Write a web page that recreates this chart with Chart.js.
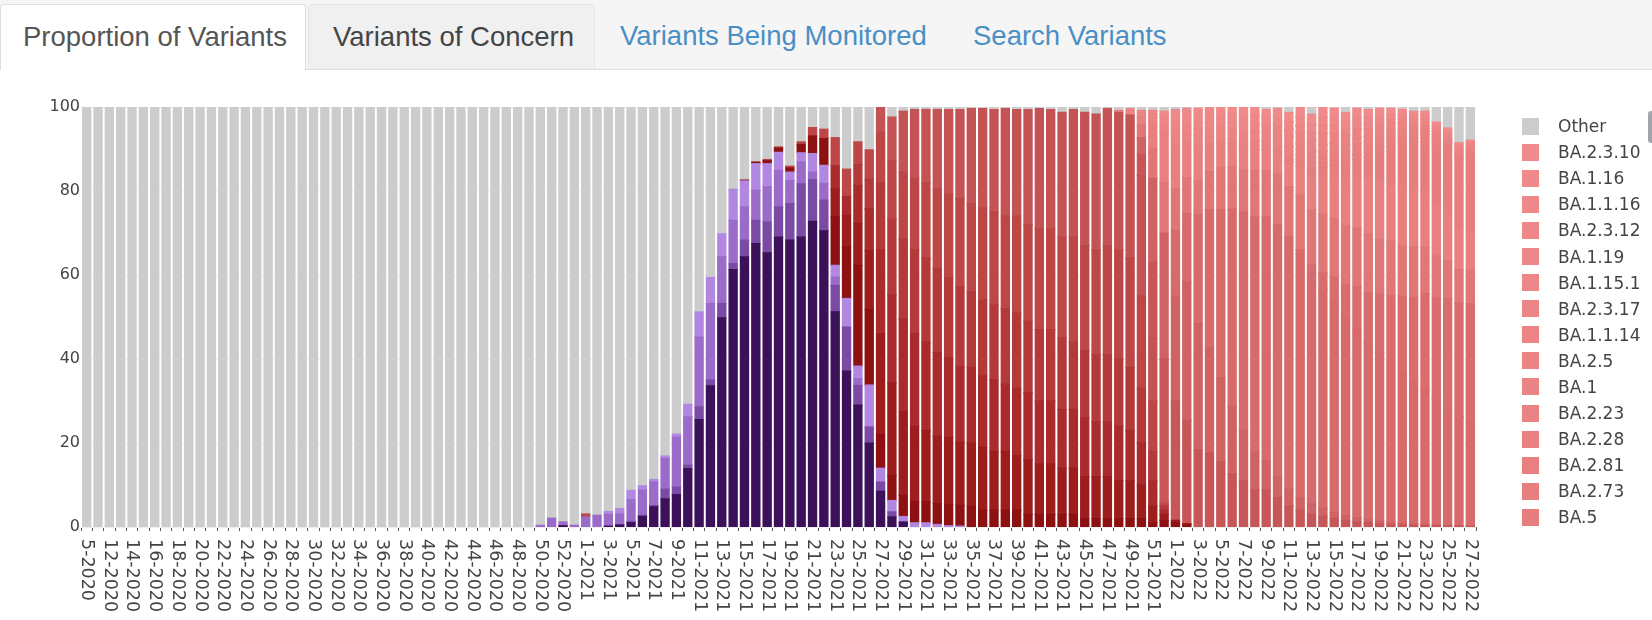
<!DOCTYPE html>
<html>
<head>
<meta charset="utf-8">
<script src="https://cdn.jsdelivr.net/npm/chart.js@4.4.0/dist/chart.umd.min.js"></script>
<style>
  body { margin: 0; background: #fff; width: 1652px; height: 620px; overflow: hidden; position: relative; }
  .tabs { position: absolute; left: 0; top: 0; width: 1652px; height: 69px; background: #f5f5f5; border-bottom: 1px solid #dddddd; }
  .tab { position: absolute; top: 4px; height: 65px; box-sizing: border-box; font: 27.5px "Liberation Sans", Arial, sans-serif; line-height: 64px; white-space: nowrap; }
  .tab.active { left: 0; width: 306px; background: #fff; border: 1px solid #dddddd; border-bottom: none; border-radius: 4px 4px 0 0; height: 66px; padding-left: 22px; color: #555; }
  .tab.plain { left: 308px; width: 287px; background: #f0f0f0; border: 1px solid #e6e6e6; border-bottom: none; border-radius: 4px 4px 0 0; padding-left: 24px; color: #444; }
  .tab.link { color: #4a8fc4; }
  #wrap { position: absolute; left: 0; top: 80px; width: 1652px; height: 540px; }
  #legend { position: absolute; left: 1522px; top: 113px; width: 125px; height: 418px; overflow: hidden; font: 17px "DejaVu Sans", Verdana, sans-serif; color: #444; }
  .item { height: 26.1px; display: flex; align-items: center; white-space: nowrap; }
  .box { width: 17px; height: 17px; margin-right: 19px; flex: none; }
  #scroll { position: absolute; left: 1648px; top: 111px; width: 6px; height: 32px; border-radius: 3px; background: #8a8f96; opacity: 0.8; }
</style>
</head>
<body>
<div class="tabs">
  <div class="tab active">Proportion of Variants</div>
  <div class="tab plain">Variants of Concern</div>
  <div class="tab link" style="left:620px">Variants Being Monitored</div>
  <div class="tab link" style="left:973px">Search Variants</div>
</div>
<div id="wrap"><canvas id="chart"></canvas></div>
<div id="legend"></div>
<div id="scroll"></div>
<script>
// epi weeks shown on the x axis
const weekLabels = [
  "5-2020","11-2020","12-2020","13-2020","14-2020","15-2020","16-2020","17-2020","18-2020","19-2020",
  "20-2020","21-2020","22-2020","23-2020","24-2020","25-2020","26-2020","27-2020","28-2020","29-2020",
  "30-2020","31-2020","32-2020","33-2020","34-2020","35-2020","36-2020","37-2020","38-2020","39-2020",
  "40-2020","41-2020","42-2020","43-2020","44-2020","45-2020","46-2020","47-2020","48-2020","49-2020",
  "50-2020","51-2020","52-2020","53-2020",
  "1-2021","2-2021","3-2021","4-2021","5-2021","6-2021","7-2021","8-2021","9-2021","10-2021",
  "11-2021","12-2021","13-2021","14-2021","15-2021","16-2021","17-2021","18-2021","19-2021","20-2021",
  "21-2021","22-2021","23-2021","24-2021","25-2021","26-2021","27-2021","28-2021","29-2021","30-2021",
  "31-2021","32-2021","33-2021","34-2021","35-2021","36-2021","37-2021","38-2021","39-2021","40-2021",
  "41-2021","42-2021","43-2021","44-2021","45-2021","46-2021","47-2021","48-2021","49-2021","50-2021",
  "51-2021","52-2021",
  "1-2022","2-2022","3-2022","4-2022","5-2022","6-2022","7-2022","8-2022","9-2022","10-2022",
  "11-2022","12-2022","13-2022","14-2022","15-2022","16-2022","17-2022","18-2022","19-2022","20-2022",
  "21-2022","22-2022","23-2022","24-2022","25-2022","26-2022","27-2022"
];
const yTicks = [0, 20, 40, 60, 80, 100];

// each series: [index of first week with data, percentages from that week on]
const b117 = [42, [0.3, 0, 0, 0, 0.2, 0.5, 1.0, 2.5, 4.8, 6.7, 7.7, 13.9, 25.6, 33.6, 49.8, 61.3, 64.3, 67.5, 65.3, 69, 68.3, 69, 72.8, 70.5, 51.2, 37.1, 29, 20, 8.5, 2.4, 1.2]];
const q1 = [48, [0.3, 0.3, 0.3, 2.3, 1.8, 0.8, 3.0, 1.4, 3.4, 1.4, 4, 5.5, 7.3, 7.2, 8.7, 12.7, 9.9, 7.3, 6.3, 10.5, 4.7, 3.8, 2.2, 1.2]];
const q3 = [40, [0.4, 2.1, 0.9, 0.4, 2.4, 2.8, 2.8, 2.6, 5.2, 6.0, 5.6, 7.3, 11.9, 11.5, 16.6, 18.2, 11.1, 10.3, 7.9, 7.2, 8.4, 8.7, 5.5, 5.2, 1.8, 4, 2, 0, 1.6]];
const q4 = [46, [0.7, 1.3, 2.2, 1.0, 0.6, 0.6, 0.7, 3.0, 6.0, 6.2, 5.5, 7.4, 6.2, 6.3, 5.5, 4.3, 2, 2.2, 4.4, 4.3, 2.8, 6.8, 3, 10, 3.3, 2.7, 1.3, 1.0, 1.0, 0.6, 0.3, 0.2]];
const b16172 = [58, [0.2, 0.4, 0.7, 1.0, 1.0, 2.0, 4.2, 6.4, 11.5, 12.3, 24, 18, 8, 6, 5, 5, 5, 5, 5, 5, 5, 4, 4, 4, 4, 3, 3, 3, 3, 3, 2, 2, 2, 2, 2, 2, 1, 1.5, 1.0, 0.5]];
const ay25 = [66, [6.7, 7.5, 10, 14, 24, 22, 20, 18, 17, 16, 16, 15, 15, 15, 14, 14, 13, 13, 12, 12, 11, 11, 10, 10, 10, 9, 9, 8, 4, 1.5, 0.6, 0.3]];
const ay27 = [66, [5.5, 4.5, 9, 10, 20, 21, 22, 22, 21, 20, 19, 18, 18, 17, 17, 16, 16, 16, 15, 15, 14, 14, 14, 13, 13, 13, 12, 10, 6, 1]];
const ay4 = [68, [5, 7, 16, 18, 19, 20, 20, 20, 19, 19, 18, 18, 18, 18, 18, 17, 17, 17, 17, 16, 16, 16, 16, 16, 15, 13, 7, 1]];
const ay103 = [44, [0.7, 0, 0, 0, 0, 0, 0, 0, 0, 0, 0, 0, 0, 0, 0, 0, 0.3, 0.3, 0.4, 0.6, 2.0, 2.2, 6.7, 6.5, 5.4, 7, 12, 14, 16, 17, 18, 19, 20, 21, 21, 22, 22, 22, 23, 23, 24, 24, 24, 25, 25, 25, 26, 26, 26, 22, 12, 0.5]];
const ay74 = [70, [6, 10.3, 14.5, 16.4, 17.4, 18.8, 20.1, 21.2, 22.6, 23.6, 24.4, 25.6, 25.4, 27.4, 28.6, 28.4, 29.7, 30.4, 31.7, 32.3, 32.6, 32.7, 32.8, 28.7, 15, 0.5]];
const ba11 = [92, [1.3, 5, 18, 34, 28.4, 24.6, 18.4, 17.6, 15.5, 12.7, 11, 8.8, 8.8, 7, 5, 4, 3, 2.5, 2, 1.5, 1.2, 1, 0.8, 0.6, 0.5, 0.4, 0.3, 0.3, 0.2, 0.2, 0.1]];
const ba1172 = [93, [4, 20, 30, 25, 32.9, 30, 25, 20, 16, 12, 9, 7, 5, 4, 3, 2.5, 2, 1.5, 1.2, 1, 0.8, 0.6, 0.5, 0.4, 0.3, 0.3, 0.2, 0.2, 0.1, 0.1]];
const ba2 = [96, [15.6, 16.3, 26, 33, 40, 47, 52, 56, 58, 60, 60, 58, 55, 52, 50, 47, 45, 42, 40, 38, 36, 34, 32, 30, 28, 26, 25]];
const ba5221 = [107, [1, 2, 4, 6, 8, 10, 12, 14, 16, 18, 20, 23, 24, 26, 27, 28]];
const ba29 = [93, [3, 7, 12, 10, 8.5, 8, 9, 10, 10, 10, 11, 11, 12, 12, 13, 13, 14, 14, 14, 14, 14, 13, 13, 12, 12, 11, 10, 9, 8, 8]];
const ba2121 = [93, [2, 6, 12, 10.3, 8.6, 8.6, 7, 6, 5, 5, 5, 5, 5, 6, 7, 8, 9, 10, 11, 12, 13, 14, 14, 14, 14, 13, 12, 11, 10, 9]];
const ba5 = [106, [0.2, 0.8, 1.2, 2.2, 2.7, 3.3, 4.3, 5.2, 7.0, 8.2, 10.2, 11.0, 12.9, 14.2, 15.7, 16.1, 18.0]];
const ba273 = [105, [0.3, 0.4, 0.8, 0.8, 1.0, 1.0, 1.1, 1.2, 1.2, 1.2, 1.2, 1.1, 1.0, 0.9, 0.8, 0.7, 0.6, 0.6]];
const ba281 = [103, [0.2, 0.3, 0.5, 0.7, 1.0, 1.2, 1.3, 1.3, 1.3, 1.3, 1.3, 1.2, 1.1, 1.0, 0.9, 0.8, 0.7, 0.6, 0.5, 0.5]];
const ba228 = [102, [0.7, 0.8, 0.8, 1.0, 1.1, 1.3, 1.4, 1.5, 1.4, 1.3, 1.3, 1.2, 1.1, 1.0, 0.9, 0.8, 0.7, 0.6, 0.5, 0.4, 0.4]];
const ba223 = [101, [0.6, 0.8, 0.9, 0.9, 1.0, 1.1, 1.3, 1.4, 1.5, 1.4, 1.3, 1.3, 1.2, 1.1, 1.0, 0.9, 0.8, 0.7, 0.6, 0.5, 0.4, 0.4]];
const ba1 = [91, [0.5, 1.5, 1.0, 1.5, 1.5, 2, 1.8, 1.6, 1.3, 1.0, 0.8, 0.6, 0.5, 0.4, 0.3, 0.2, 0.2, 0.1, 0.1, 0.1, 0.1, 0.1, 0.1]];
const ba25 = [96, [0.5, 0.5, 0.8, 1.0, 1.2, 1.4, 1.6, 1.8, 1.8, 2.0, 2.2, 2.5, 2.5, 2.6, 2.4, 2.2, 2.0, 1.8, 1.6, 1.4, 1.2, 1.0, 0.9, 0.8, 0.7, 0.6, 0.5]];
const ba1114 = [94, [0.7, 1, 1.5, 1.4, 1.4, 1.2, 1.0, 0.8, 0.6, 0.4, 0.3, 0.3, 0.2, 0.1, 0.1, 0.1, 0.1, 0.1]];
const ba2317 = [100, [0.6, 0.8, 1.0, 1.1, 1.0, 1.2, 1.3, 1.5, 1.6, 1.7, 1.6, 1.5, 1.4, 1.3, 1.2, 1.1, 1.0, 0.9, 0.8, 0.7, 0.6, 0.5, 0.5]];
const ba1151 = [93, [0.5, 1.0, 1, 1.5, 1.5, 1.5, 1.3, 1.0, 0.8, 0.6, 0.5, 0.4, 0.3, 0.2, 0.1, 0.1, 0.1, 0.1]];
const ba119 = [95, [0.5, 1, 1, 1, 0.9, 0.8, 0.7, 0.5, 0.4, 0.3, 0.2, 0.2, 0.1, 0.1]];
const ba2312 = [99, [0.4, 0.6, 0.9, 1.1, 1.2, 1.2, 1.4, 1.5, 1.8, 1.8, 1.9, 1.8, 1.7, 1.6, 1.5, 1.3, 1.2, 1.0, 0.9, 0.8, 0.7, 0.6, 0.5, 0.5]];
const ba1116 = [95, [0.5, 1, 1, 1, 0.9, 0.8, 0.7, 0.5, 0.4, 0.3, 0.2, 0.2, 0.1, 0.1]];
const ba116 = [95, [0.5, 1, 0.8, 0.9, 0.8, 0.7, 0.6, 0.5, 0.4, 0.3, 0.2, 0.2, 0.1, 0.1, 0.1]];
const ba2310 = [98, [0.5, 0.6, 0.8, 1.2, 1.5, 1.6, 1.6, 1.8, 2.0, 2.3, 2.3, 2.4, 2.3, 2.1, 2.0, 1.8, 1.6, 1.4, 1.2, 1.0, 0.9, 0.8, 0.7, 0.6, 0.5]];
const other = [0, [
  100, 100, 100, 100, 100, 100, 100, 100, 100, 100, 100, 100, 100, 100, 100, 100, 100, 100, 100, 100,
  100, 100, 100, 100, 100, 100, 100, 100, 100, 100, 100, 100, 100, 100, 100, 100, 100, 100, 100, 100,
  99.6, 97.9, 98.8, 99.6, 96.9, 97.2, 96.3, 95.6, 91.3, 90.2, 88.7, 83.1, 77.9, 70.8, 48.8, 40.6, 30.2, 19.6, 17.4, 13.1,
  12.5, 9.5, 14.1, 8.3, 4.9, 5.3, 7.3, 14.8, 8.3, 10.2, 0, 2.4, 1.0, 0.6, 0.6, 0.6, 0.6, 0.6, 0.4, 0.4,
  0.6, 0.4, 0.6, 0.6, 0.4, 0.6, 1.3, 0.6, 1.3, 1.7, 0.4, 0.8, 0.4, 0.8, 0.8, 1.0, 0.6, 0.3, 0.3, 0,
  0, 0, 0, 0, 0.6, 0.3, 1.3, 0, 1.7, 0, 0.3, 1.3, 0.3, 0.6, 0.3, 0.3, 0.6, 1.0, 1.0, 3.6,
  5.0, 8.5, 7.9
]];

// stacking order, bottom first (legend lists it top first)
const lineageNames = ["B.1.1.7", "Q.1", "Q.3", "Q.4", "B.1.617.2", "AY.25", "AY.27", "AY.4", "AY.103", "AY.74",
  "BA.1.1", "BA.1.17.2", "BA.2", "BA.5.2.1", "BA.2.9", "BA.2.12.1",
  "BA.5", "BA.2.73", "BA.2.81", "BA.2.28", "BA.2.23", "BA.1", "BA.2.5", "BA.1.1.14", "BA.2.3.17",
  "BA.1.15.1", "BA.1.19", "BA.2.3.12", "BA.1.1.16", "BA.1.16", "BA.2.3.10", "Other"];
const lineageSeries = [b117, q1, q3, q4, b16172, ay25, ay27, ay4, ay103, ay74,
  ba11, ba1172, ba2, ba5221, ba29, ba2121,
  ba5, ba273, ba281, ba228, ba223, ba1, ba25, ba1114, ba2317,
  ba1151, ba119, ba2312, ba1116, ba116, ba2310, other];
const lineageColors = ["#3b1159", "#7a4aa5", "#9a6bc8", "#b287e2", "#8e1111", "#9d1d1d", "#aa2b2b", "#b43939", "#bd4747", "#c45353",
  "#c75757", "#cf6262", "#d76a6a", "#d96d6d", "#e07676", "#e88080",
  "#e67e7e", "#e77f7f", "#e88080", "#e98181", "#e98282", "#ea8383", "#eb8383", "#ec8484", "#ec8585",
  "#ed8686", "#ee8787", "#ee8888", "#ef8989", "#f08a8a", "#f18b8b", "#cccccc"];

// weeks without a value for a lineage get no bar at all
function expand([start, vals]) {
  return weekLabels.map((_, i) => (i >= start && i < start + vals.length && vals[i - start]) ? vals[i - start] : null);
}

const weekTicks = {
  id: 'weekTicks',
  afterDraw(chart) {
    const { ctx } = chart;
    const x = chart.scales.x;
    ctx.save();
    ctx.font = '17.5px "DejaVu Sans", Verdana, sans-serif';
    ctx.fillStyle = '#444';
    ctx.textAlign = 'left';
    ctx.textBaseline = 'middle';
    weekLabels.forEach((lab, i) => {
      if (i % 2) return;
      ctx.save();
      ctx.translate(x.getPixelForValue(i), x.top + 12);
      ctx.rotate(Math.PI / 2);
      ctx.fillText(lab, 0, 0);
      ctx.restore();
    });
    ctx.restore();
  }
};

Chart.defaults.font.family = '"DejaVu Sans", Verdana, sans-serif';

const chart = new Chart(document.getElementById('chart'), {
  type: 'bar',
  data: {
    labels: weekLabels,
    datasets: lineageNames.map((name, k) => ({
      label: name,
      data: expand(lineageSeries[k]),
      backgroundColor: lineageColors[k],
      borderWidth: 0,
      inflateAmount: 0.6,
      barPercentage: 0.72,
      categoryPercentage: 1
    }))
  },
  options: {
    responsive: true,
    maintainAspectRatio: false,
    animation: false,
    layout: { padding: { left: 0, right: 176, top: 27, bottom: 0 } },
    plugins: { legend: { display: false }, tooltip: { enabled: false } },
    scales: {
      x: {
        stacked: true,
        ticks: { display: false },
        grid: { display: true, drawOnChartArea: false, drawTicks: true, tickLength: 4, color: '#555' },
        border: { display: false },
        afterFit: s => { s.height = 93; }
      },
      y: {
        stacked: true,
        min: 0,
        max: 100,
        afterBuildTicks: s => { s.ticks = yTicks.map(v => ({ value: v })); },
        ticks: { color: '#444', font: { size: 16 }, padding: 1 },
        grid: { color: '#eeeeee', drawTicks: false },
        border: { display: false },
        afterFit: s => { s.width = 81; }
      }
    }
  },
  plugins: [weekTicks]
});

// legend, top of the stack first
const legendBox = document.getElementById('legend');
chart.data.datasets.slice().reverse().forEach(ds => {
  const row = document.createElement('div');
  row.className = 'item';
  row.innerHTML = '<span class="box" style="background:' + ds.backgroundColor + '"></span>' + ds.label;
  legendBox.appendChild(row);
});
</script>
</body>
</html>
